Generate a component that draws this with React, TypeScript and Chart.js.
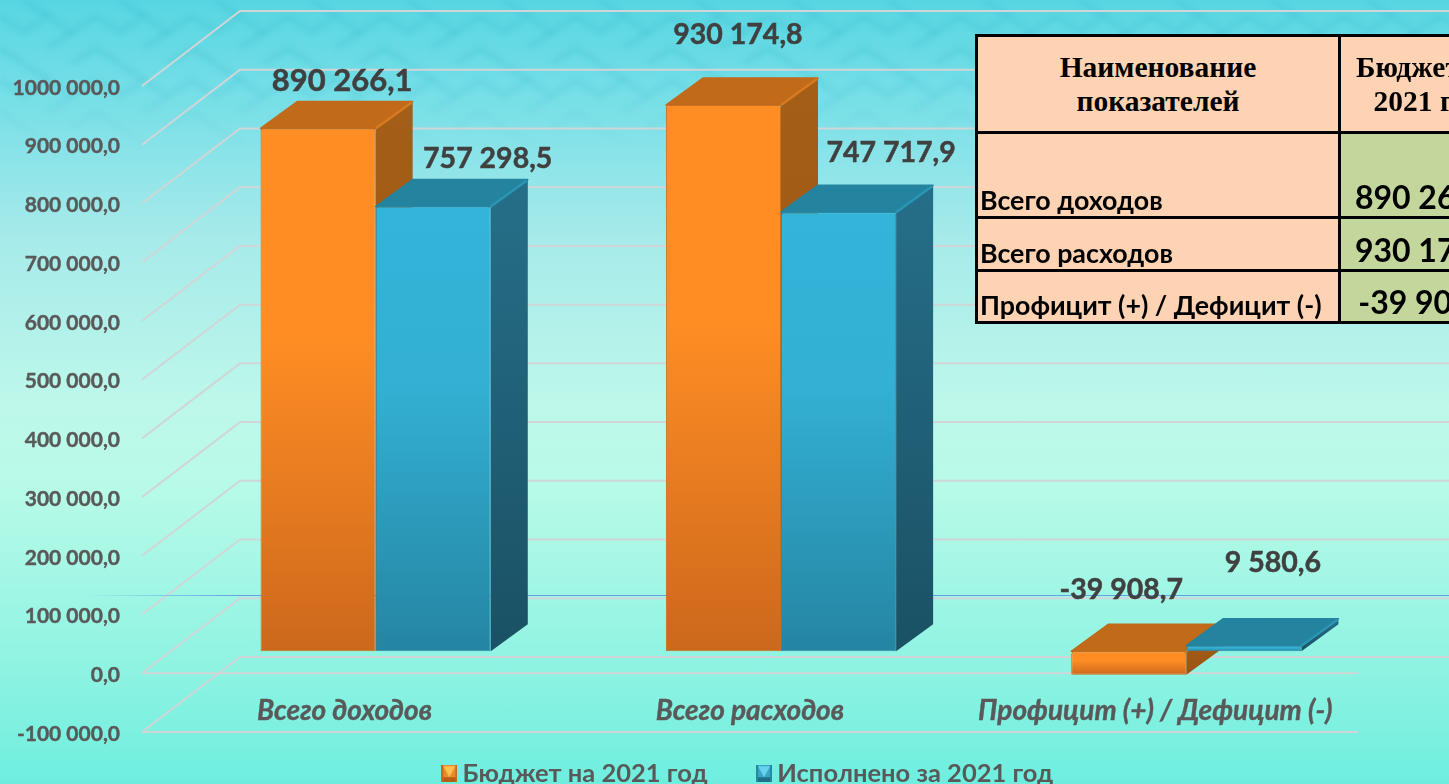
import React, { useEffect, useRef } from "react";
import { Chart, registerables } from "chart.js";

Chart.register(...registerables);

const categories = ["Всего доходов", "Всего расходов", "Профицит (+) / Дефицит (-)"];
const budget2021 = [890266.1, 930174.8, -39908.7];
const executed2021 = [757298.5, 747717.9, 9580.6];
const seriesNames = ["Бюджет на 2021 год", "Исполнено за 2021 год"];
const tableHeaders = ["Наименование показателей", "Бюджет на 2021 год"];

const FONT = "Lato, 'Open Sans', sans-serif";
const SHIFT = { x: 31, y: -22 };
const DEPTH = { x: 37, y: -27 };
const WALL = { x: 98, y: -75 };

const labelOffsets = [
  [
    [55, -69],
    [45.5, -92.5],
    [23.5, -107],
  ],
  [
    [85.5, -70],
    [83.5, -81],
    [60, -105],
  ],
];
const labelSizes = [
  [31, 28.5, 28.5],
  [28.5, 28.5, 28.5],
];

const palette = [
  { front: ["#ff8d24", "#ff8d24", "#cc681c"], top: "#c06a1a", edge: "#d87a20", side: ["#a55e17", "#9a5513"], border: "#c8701c" },
  { front: ["#33b4d9", "#33b0d4", "#2585a2"], top: "#24839f", edge: "#2a96b5", side: ["#266f89", "#1a5164"], border: "#2a8fae" },
];

function fmt(v: number): string {
  const s = Math.abs(v).toFixed(1);
  const [i, d] = s.split(".");
  const n = i.length > 3 ? i.slice(0, i.length - 3) + " " + i.slice(-3) : i;
  return (v < 0 ? "-" : "") + n + "," + d;
}

function legendSwatch(i: number): HTMLCanvasElement {
  const c = document.createElement("canvas");
  c.width = 16;
  c.height = 17;
  const x = c.getContext("2d")!;
  const colors = i === 0 ? ["#e98a2e", "#b35f1a", "#ffc04d", "#c66a1e"] : ["#3aa5c5", "#1f6f88", "#66d4ee", "#2887a3"];
  x.fillStyle = colors[0];
  x.fillRect(0, 0, 16, 17);
  x.fillStyle = colors[1];
  x.fillRect(0, 12, 16, 5);
  x.fillStyle = colors[3];
  x.fillRect(0, 0, 2, 17);
  x.fillRect(14, 0, 2, 17);
  x.fillStyle = colors[2];
  x.beginPath();
  x.moveTo(2, 1);
  x.lineTo(14, 1);
  x.lineTo(8, 12);
  x.closePath();
  x.fill();
  return c;
}

function drawFaces(ctx: CanvasRenderingContext2D, meta: any, index: number) {
  const p = palette[index];
  meta.data.forEach((el: any) => {
    const { x, y, base, width } = el.getProps(["x", "y", "base", "width"], true);
    const x0 = x - width / 2;
    const x1 = x + width / 2;
    const yt = Math.min(y, base);
    const yb = Math.max(y, base);
    const sg = ctx.createLinearGradient(0, yt + DEPTH.y, 0, yb);
    sg.addColorStop(0, p.side[0]);
    sg.addColorStop(1, p.side[1]);
    ctx.fillStyle = sg;
    ctx.beginPath();
    ctx.moveTo(x1, yt);
    ctx.lineTo(x1 + DEPTH.x, yt + DEPTH.y);
    ctx.lineTo(x1 + DEPTH.x, yb + DEPTH.y);
    ctx.lineTo(x1, yb);
    ctx.closePath();
    ctx.fill();
    ctx.fillStyle = p.top;
    ctx.strokeStyle = p.top;
    ctx.lineJoin = "round";
    ctx.lineWidth = 1.5;
    ctx.beginPath();
    ctx.moveTo(x0, yt);
    ctx.lineTo(x1, yt);
    ctx.lineTo(x1 + DEPTH.x, yt + DEPTH.y);
    ctx.lineTo(x0 + DEPTH.x, yt + DEPTH.y);
    ctx.closePath();
    ctx.fill();
    ctx.stroke();
    ctx.strokeStyle = p.edge;
    ctx.lineWidth = 2.5;
    ctx.beginPath();
    ctx.moveTo(x1, yt);
    ctx.lineTo(x1 + DEPTH.x - 1, yt + DEPTH.y + 1);
    ctx.stroke();
  });
}

const scene3d = {
  id: "scene3d",
  afterLayout(chart: any) {
    const l = chart.legend;
    if (l) {
      l.top = 705;
      l.bottom = 784;
      l.left += 72;
      l.right += 72;
    }
  },
  beforeDatasetsDraw(chart: any) {
    const { ctx, scales } = chart;
    const y = scales.y;
    const x = scales.x;
    const left = x.left;
    const right = x.right;
    ctx.save();
    ctx.strokeStyle = "#d0d6d7";
    ctx.lineWidth = 2;
    y.ticks.forEach((t: any) => {
      const p = y.getPixelForValue(t.value);
      ctx.beginPath();
      ctx.moveTo(left, p);
      ctx.lineTo(left + WALL.x, p + WALL.y);
      ctx.lineTo(right + WALL.x + 100, p + WALL.y);
      ctx.stroke();
      if (t.value <= 0) {
        ctx.beginPath();
        ctx.moveTo(left, p);
        ctx.lineTo(right, p);
        ctx.stroke();
      }
    });
    const zeroY = Math.round(y.getPixelForValue(0) + WALL.y - 3);
    const g = ctx.createLinearGradient(85, 0, 240, 0);
    g.addColorStop(0, "rgba(100,160,230,0)");
    g.addColorStop(1, "rgba(100,160,230,1)");
    ctx.strokeStyle = g;
    ctx.lineWidth = 1;
    ctx.beginPath();
    ctx.moveTo(85, zeroY + 0.5);
    ctx.lineTo(chart.width, zeroY + 0.5);
    ctx.stroke();
    ctx.restore();
  },
  // Chart.js paints datasets last-to-first; the left series must be painted first here.
  beforeDatasetDraw() {
    return false;
  },
  afterDatasetsDraw(chart: any) {
    const { ctx } = chart;
    chart.data.datasets.forEach((_: any, di: number) => {
      const meta = chart.getDatasetMeta(di);
      ctx.save();
      ctx.translate(SHIFT.x, SHIFT.y);
      drawFaces(ctx, meta, di);
      meta.controller.draw();
      ctx.restore();
    });
    ctx.save();
    ctx.fillStyle = "#404040";
    ctx.strokeStyle = "#404040";
    ctx.lineWidth = 0.5;
    ctx.textAlign = "center";
    ctx.textBaseline = "middle";
    chart.data.datasets.forEach((ds: any, di: number) => {
      chart.getDatasetMeta(di).data.forEach((el: any, i: number) => {
        const [ox, oy] = labelOffsets[di][i];
        ctx.font = `bold ${labelSizes[di][i]}px ${FONT}`;
        ctx.fillText(fmt(ds.data[i]), el.x + ox, el.y + oy);
        ctx.strokeText(fmt(ds.data[i]), el.x + ox, el.y + oy);
      });
    });
    ctx.restore();
  },
};

const ornament =
  "data:image/svg+xml," +
  encodeURIComponent(
    `<svg xmlns='http://www.w3.org/2000/svg' width='96' height='64'><g fill='none' stroke='#35b4c6' stroke-opacity='0.16' stroke-width='8'><path d='M0 16 L24 32 L48 16 L72 32 L96 16'/><path d='M0 48 L24 64 M24 0 L48 16 M48 48 L72 32 M72 64 L96 48'/></g></svg>`
  );

const cell: React.CSSProperties = { border: "3px solid #000", padding: 0, overflow: "hidden" };
const labelCell: React.CSSProperties = {
  ...cell,
  background: "#fdd3b4",
  font: `bold 26.8px ${FONT}`,
  color: "#000",
  verticalAlign: "bottom",
  textAlign: "left",
  paddingLeft: 2,
  paddingBottom: 2,
  lineHeight: "28px",
  whiteSpace: "nowrap",
};
const valueCell: React.CSSProperties = {
  ...cell,
  background: "#c3d69b",
  font: `bold 32px ${FONT}`,
  color: "#000",
  verticalAlign: "bottom",
  textAlign: "center",
  paddingBottom: 1,
  lineHeight: "36px",
  whiteSpace: "nowrap",
};
const headCell: React.CSSProperties = {
  ...cell,
  background: "#fdd3b4",
  font: "bold 29.5px 'Liberation Serif', serif",
  color: "#000",
  textAlign: "center",
  verticalAlign: "middle",
  lineHeight: "34px",
};

const rowHeights = [97, 85, 53, 52];

export default function App() {
  const ref = useRef<HTMLCanvasElement>(null);

  useEffect(() => {
    document.body.style.margin = "0";
    document.body.style.overflow = "hidden";
    const mkFront = (i: number) => (c: any) => {
      const sc = c.chart.scales.y;
      const v = c.raw ?? 0;
      const y0 = sc.getPixelForValue(Math.max(v, 0));
      const y1 = sc.getPixelForValue(Math.min(v, 0));
      const g = c.chart.ctx.createLinearGradient(0, y0, 0, y1);
      g.addColorStop(0, palette[i].front[0]);
      g.addColorStop(0.4, palette[i].front[1]);
      g.addColorStop(1, palette[i].front[2]);
      return g;
    };
    const swatches = [legendSwatch(0), legendSwatch(1)];
    const chart = new Chart(ref.current!, {
      type: "bar",
      data: {
        labels: categories,
        datasets: [budget2021, executed2021].map((d, i) => ({
          label: seriesNames[i],
          data: d,
          backgroundColor: mkFront(i),
          borderColor: palette[i].border,
          borderWidth: 1,
          borderSkipped: false,
          borderRadius: { topLeft: 3, topRight: 3, bottomLeft: 1, bottomRight: 1 },
          barPercentage: 1,
          categoryPercentage: 0.568,
          clip: false,
        })) as any,
      },
      options: {
        animation: false,
        responsive: false,
        events: [],
        layout: { padding: { top: 86, right: 91, left: 0, bottom: 0 } },
        plugins: {
          tooltip: { enabled: false },
          title: { display: false },
          legend: {
            position: "bottom",
            maxHeight: 1,
            labels: {
              color: "#595959",
              font: { family: FONT, size: 25.5, weight: "bold" },
              usePointStyle: true,
              pointStyleWidth: 1,
              padding: 56,
              generateLabels: () =>
                seriesNames.map((text, i) => ({
                  text,
                  pointStyle: swatches[i],
                  fontColor: "#595959",
                  datasetIndex: i,
                  hidden: false,
                  lineWidth: 0,
                  strokeStyle: "transparent",
                  fillStyle: "transparent",
                })) as any,
            },
          } as any,
        },
        scales: {
          x: {
            grid: { display: false, drawTicks: false },
            border: { display: false },
            afterFit: (s: any) => {
              s.height = 51;
            },
            ticks: {
              autoSkip: false,
              maxRotation: 0,
              mirror: true,
              padding: 4,
              color: "#595959",
              z: 1,
              textStrokeColor: "#595959",
              textStrokeWidth: 0.4,
              font: { family: FONT, size: 28, weight: "bold", style: "italic" },
            },
          } as any,
          y: {
            min: -100000,
            max: 1000000,
            grid: { display: false, drawTicks: false },
            border: { display: false },
            afterFit: (s: any) => {
              s.width = 142;
            },
            ticks: {
              stepSize: 100000,
              padding: 22,
              labelOffset: 2,
              color: "#595959",
              textStrokeColor: "#595959",
              textStrokeWidth: 0.4,
              font: { family: FONT, size: 21, weight: "bold" },
              callback: (v: any) => fmt(Number(v)),
            },
          } as any,
        },
      },
      plugins: [scene3d as any],
    });
    return () => chart.destroy();
  }, []);

  return (
    <div
      style={{
        position: "relative",
        width: 1449,
        height: 784,
        overflow: "hidden",
        background:
          "linear-gradient(180deg,#57d6e2 0%,#78dfe7 13%,#a6eaea 30%,#bdf8ea 52%,#b8fae8 62%,#8ff3e2 85%,#6eeedf 100%)",
      }}
    >
      <div
        style={{
          position: "absolute",
          left: 0,
          top: 0,
          width: 1449,
          height: 150,
          backgroundImage: `url("${ornament}")`,
          WebkitMaskImage: "linear-gradient(180deg,#000 40%,transparent 100%)",
          maskImage: "linear-gradient(180deg,#000 40%,transparent 100%)",
          filter: "blur(2px)",
        }}
      />
      <canvas ref={ref} width={1449} height={784} style={{ position: "absolute", left: 0, top: 0, display: "block" }} />
      <table
        style={{
          position: "absolute",
          left: 975,
          top: 34,
          width: 539,
          tableLayout: "fixed",
          borderCollapse: "collapse",
        }}
      >
        <colgroup>
          <col style={{ width: 363 }} />
          <col style={{ width: 176 }} />
        </colgroup>
        <tbody>
          <tr style={{ height: rowHeights[0] }}>
            <td style={headCell}>
              <div style={{ padding: "0 50px" }}>{tableHeaders[0]}</div>
            </td>
            <td style={headCell}>{tableHeaders[1]}</td>
          </tr>
          {categories.map((c, i) => (
            <tr key={c} style={{ height: rowHeights[i + 1] }}>
              <td style={labelCell}>{c}</td>
              <td style={valueCell}>{fmt(budget2021[i])}</td>
            </tr>
          ))}
        </tbody>
      </table>
    </div>
  );
}
